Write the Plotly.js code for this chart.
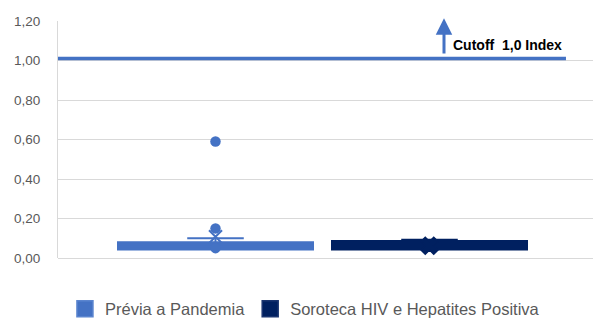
<!DOCTYPE html>
<html>
<head>
<meta charset="utf-8">
<script src="https://cdn.plot.ly/plotly-3.0.1.min.js"></script>
<style>html,body{margin:0;padding:0;background:#fff;}#chart{width:593px;height:321px;}</style>
</head>
<body>
<div id="chart"></div>
<script>
// ---- data ----
const seriesNames = ['Prévia a Pandemia', 'Soroteca HIV e Hepatites Positiva'];
const q1Values = [0.043, 0.043];
const medianValues = [0.060, 0.060];
const q3Values = [0.080, 0.086];
const lowerFences = [0.043, 0.043];
const upperFences = [0.100, 0.093];
const meanValues = [0.108, 0.062];
const outliersPrevia = [0.59, 0.15, 0.05];
const outliersSoroteca = [];
const cutoffValue = 1.01;
const cutoffLabel = 'Cutoff  1,0 Index';
const yTickValues = [0, 0.2, 0.4, 0.6, 0.8, 1.0, 1.2];

// ---- style / layout ----
const colors = ['#4472C4', '#002060'];
const positions = [0.2944, 0.6944];
const boxWidth = 0.3645;
const outliers = [outliersPrevia, outliersSoroteca];
const meanSymbols = ['x-thin-open', 'x'];
const meanSizes = [13, 15];

const traces = [];
seriesNames.forEach((name, i) => {
  traces.push({
    type: 'box', name: name, orientation: 'v',
    x: [positions[i]],
    q1: [q1Values[i]], median: [medianValues[i]], q3: [q3Values[i]],
    lowerfence: [lowerFences[i]], upperfence: [upperFences[i]],
    width: boxWidth, whiskerwidth: 0.29,
    fillcolor: colors[i], line: {color: colors[i], width: 2},
    boxpoints: false, showlegend: false, hoverinfo: 'skip'
  });
  traces.push({
    type: 'scatter', mode: 'markers', showlegend: false, hoverinfo: 'skip',
    x: outliers[i].map(() => positions[i]), y: outliers[i],
    marker: {color: colors[i], size: 10.5}
  });
  traces.push({
    type: 'scatter', mode: 'markers', showlegend: false, hoverinfo: 'skip',
    x: [positions[i]], y: [meanValues[i]],
    marker: {symbol: meanSymbols[i], size: meanSizes[i], color: colors[i],
             line: {color: colors[i], width: i === 0 ? 2 : 1.5}}
  });
});
// legend entries
seriesNames.forEach((name, i) => {
  traces.push({
    type: 'scatter', mode: 'markers', name: name, x: [null], y: [null],
    marker: {symbol: 'square', size: 16, color: colors[i],
             line: {color: i === 0 ? '#5b85cf' : '#1a3570', width: 1.5}},
    showlegend: true
  });
});

const layout = {
  width: 593, height: 321,
  margin: {l: 58, r: 0, t: 21, b: 63, pad: 0},
  paper_bgcolor: '#ffffff', plot_bgcolor: '#ffffff',
  separators: ',.',
  font: {family: '"Liberation Sans", Arial, sans-serif', color: '#595959'},
  showlegend: true,
  legend: {
    orientation: 'h', xref: 'paper', x: 0.013, xanchor: 'left',
    yref: 'container', y: 0.0374, yanchor: 'middle',
    font: {size: 16.5, color: '#595959'}, itemsizing: 'trace'
  },
  xaxis: {range: [0, 1], showgrid: false, zeroline: false, showticklabels: false,
          showline: false, fixedrange: true},
  yaxis: {range: [0, 1.2], tickvals: yTickValues, tickformat: '.2f',
          showgrid: true, gridcolor: '#d9d9d9', gridwidth: 1,
          zeroline: true, zerolinecolor: '#d9d9d9', zerolinewidth: 1,
          showline: true, linecolor: '#d9d9d9', linewidth: 1,
          ticks: '', ticklabelstandoff: 14,
          tickfont: {size: 13.5, color: '#595959'}, fixedrange: true},
  shapes: [{
    type: 'line', xref: 'x', yref: 'y', x0: 0, x1: 0.9495,
    y0: cutoffValue, y1: cutoffValue,
    line: {color: '#4472C4', width: 3.5}
  }],
  annotations: [
    {xref: 'x', yref: 'y', x: 0.7215, y: 1.214, ax: 0.7215, ay: 1.028,
     axref: 'x', ayref: 'y', showarrow: true, arrowhead: 2, arrowsize: 1.1,
     arrowwidth: 3, arrowcolor: '#4472C4', text: ''},
    {xref: 'x', yref: 'y', x: 0.7345, y: 1.078, xanchor: 'left', yanchor: 'middle',
     showarrow: false, text: '<b>' + cutoffLabel + '</b>',
     font: {size: 14, color: '#000000', family: '"Liberation Sans", Arial, sans-serif'}}
  ]
};

Plotly.newPlot('chart', traces, layout, {displayModeBar: false, staticPlot: true});
</script>
</body>
</html>
